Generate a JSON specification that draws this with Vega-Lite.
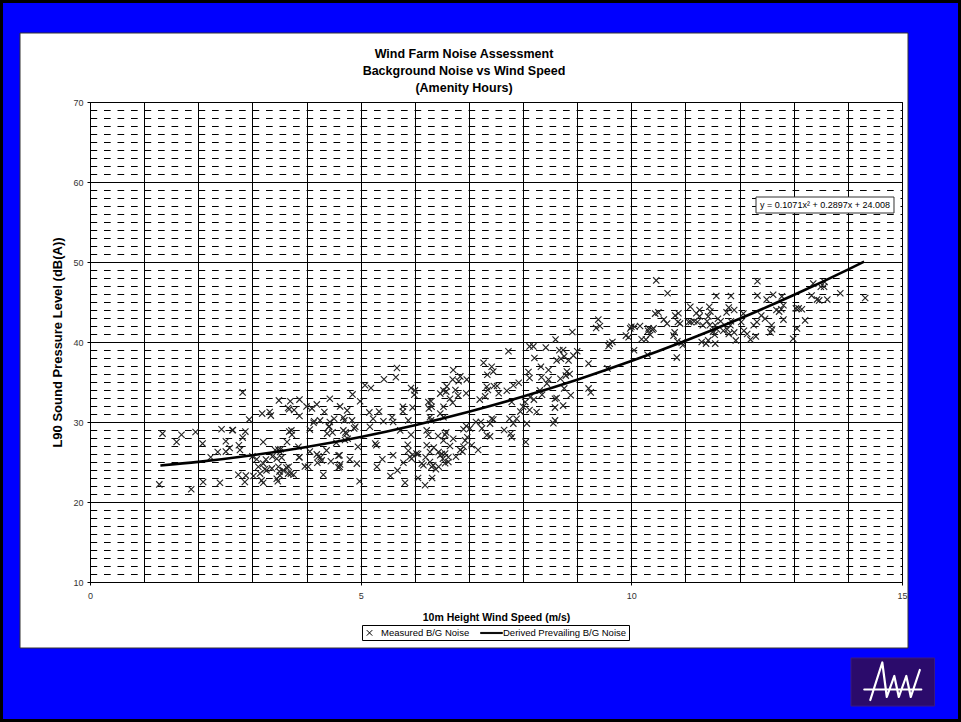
{
  "$schema": "https://vega.github.io/schema/vega-lite/v6.json",
  "width": 812,
  "height": 480,
  "autosize": {"type": "none"},
  "padding": {"left": 90, "top": 102, "right": 59, "bottom": 140},
  "background": "#ffffff",
  "title": {
    "text": ["Wind Farm Noise Assessment", "Background Noise vs Wind Speed", "(Amenity Hours)"],
    "font": "Liberation Sans",
    "fontSize": 12.5,
    "fontWeight": "bold",
    "color": "#000000",
    "lineHeight": 17,
    "anchor": "middle",
    "frame": "group",
    "dx": -32,
    "dy": 94,
    "offset": 0
  },
  "datasets": {
    "noise": [
      {"speed": 1.28, "level": 22.2}, {"speed": 1.34, "level": 28.55}, {"speed": 1.6, "level": 27.5}, {"speed": 1.69, "level": 28.4},
      {"speed": 1.95, "level": 28.75}, {"speed": 1.87, "level": 21.6}, {"speed": 2.09, "level": 22.5}, {"speed": 2.4, "level": 22.4},
      {"speed": 2.08, "level": 27.3}, {"speed": 2.23, "level": 25.6}, {"speed": 2.36, "level": 26.25}, {"speed": 2.43, "level": 29.1},
      {"speed": 2.63, "level": 28.96}, {"speed": 2.51, "level": 27.6}, {"speed": 2.58, "level": 26.75}, {"speed": 2.51, "level": 26.3},
      {"speed": 2.75, "level": 27.1}, {"speed": 2.82, "level": 28.05}, {"speed": 2.87, "level": 28.8}, {"speed": 2.94, "level": 30.3},
      {"speed": 2.82, "level": 33.7}, {"speed": 2.74, "level": 23.4}, {"speed": 2.88, "level": 23.3}, {"speed": 2.86, "level": 22.5},
      {"speed": 3.02, "level": 23.25}, {"speed": 2.64, "level": 29.0}, {"speed": 2.77, "level": 26.5}, {"speed": 3.0, "level": 25.7},
      {"speed": 3.18, "level": 31.05}, {"speed": 3.32, "level": 31.25}, {"speed": 3.34, "level": 30.8}, {"speed": 3.2, "level": 27.5},
      {"speed": 3.49, "level": 32.7}, {"speed": 3.7, "level": 32.6}, {"speed": 3.77, "level": 31.5}, {"speed": 3.87, "level": 30.75},
      {"speed": 3.66, "level": 31.75}, {"speed": 3.68, "level": 31.6}, {"speed": 4.0, "level": 31.95}, {"speed": 4.1, "level": 31.7},
      {"speed": 4.19, "level": 32.2}, {"speed": 4.43, "level": 32.9}, {"speed": 4.33, "level": 31.25}, {"speed": 3.87, "level": 32.8},
      {"speed": 4.06, "level": 29.05}, {"speed": 4.14, "level": 30.1}, {"speed": 4.25, "level": 30.2}, {"speed": 4.43, "level": 30.0},
      {"speed": 4.51, "level": 30.4}, {"speed": 4.38, "level": 28.55}, {"speed": 4.48, "level": 28.7}, {"speed": 4.42, "level": 29.45},
      {"speed": 3.68, "level": 28.8}, {"speed": 3.73, "level": 28.4}, {"speed": 3.64, "level": 27.5}, {"speed": 3.48, "level": 26.55},
      {"speed": 3.54, "level": 25.55}, {"speed": 3.37, "level": 25.7}, {"speed": 3.25, "level": 25.3}, {"speed": 3.08, "level": 25.35},
      {"speed": 3.11, "level": 24.4}, {"speed": 3.2, "level": 24.8}, {"speed": 3.26, "level": 23.95}, {"speed": 3.14, "level": 23.55},
      {"speed": 3.17, "level": 22.7}, {"speed": 3.2, "level": 22.4}, {"speed": 3.36, "level": 24.2}, {"speed": 3.48, "level": 24.4},
      {"speed": 3.57, "level": 23.95}, {"speed": 3.63, "level": 24.3}, {"speed": 3.66, "level": 23.55}, {"speed": 3.45, "level": 22.9},
      {"speed": 3.47, "level": 22.6}, {"speed": 3.51, "level": 23.3}, {"speed": 3.76, "level": 23.4}, {"speed": 3.97, "level": 24.45},
      {"speed": 4.31, "level": 23.4}, {"speed": 3.87, "level": 25.6}, {"speed": 4.06, "level": 26.3}, {"speed": 4.19, "level": 25.95},
      {"speed": 4.28, "level": 25.2}, {"speed": 4.26, "level": 25.6}, {"speed": 4.37, "level": 26.45}, {"speed": 4.59, "level": 25.8},
      {"speed": 4.59, "level": 24.3}, {"speed": 3.42, "level": 26.5}, {"speed": 3.52, "level": 26.6}, {"speed": 3.85, "level": 26.9},
      {"speed": 3.86, "level": 25.6}, {"speed": 4.2, "level": 24.9}, {"speed": 4.22, "level": 25.7}, {"speed": 4.03, "level": 24.4},
      {"speed": 3.23, "level": 24.1}, {"speed": 3.5, "level": 23.8}, {"speed": 3.67, "level": 24.4}, {"speed": 3.71, "level": 23.55},
      {"speed": 3.45, "level": 25.4}, {"speed": 3.51, "level": 26.25}, {"speed": 4.13, "level": 29.9}, {"speed": 4.41, "level": 29.4},
      {"speed": 4.62, "level": 31.95}, {"speed": 4.68, "level": 30.55}, {"speed": 4.7, "level": 30.2}, {"speed": 4.75, "level": 31.45},
      {"speed": 4.68, "level": 28.95}, {"speed": 4.72, "level": 28.7}, {"speed": 4.84, "level": 30.2}, {"speed": 4.9, "level": 29.4},
      {"speed": 4.88, "level": 29.2}, {"speed": 4.85, "level": 33.45}, {"speed": 4.99, "level": 32.6}, {"speed": 4.61, "level": 25.85},
      {"speed": 4.62, "level": 24.7}, {"speed": 4.61, "level": 24.4}, {"speed": 4.93, "level": 24.8}, {"speed": 4.98, "level": 22.6},
      {"speed": 3.72, "level": 28.95}, {"speed": 4.55, "level": 27.4}, {"speed": 4.76, "level": 27.9}, {"speed": 4.95, "level": 26.9},
      {"speed": 4.45, "level": 25.1}, {"speed": 4.8, "level": 25.3}, {"speed": 4.71, "level": 27.75}, {"speed": 4.74, "level": 28.55},
      {"speed": 5.08, "level": 34.6}, {"speed": 5.19, "level": 34.25}, {"speed": 5.43, "level": 35.35}, {"speed": 5.65, "level": 35.6},
      {"speed": 5.67, "level": 36.75}, {"speed": 5.93, "level": 34.25}, {"speed": 6.0, "level": 33.95}, {"speed": 5.99, "level": 33.4},
      {"speed": 5.16, "level": 31.2}, {"speed": 5.34, "level": 31.3}, {"speed": 5.17, "level": 29.4}, {"speed": 5.23, "level": 30.4},
      {"speed": 5.42, "level": 30.1}, {"speed": 5.58, "level": 30.6}, {"speed": 5.6, "level": 30.0}, {"speed": 5.78, "level": 31.9},
      {"speed": 5.78, "level": 31.3}, {"speed": 5.88, "level": 30.2}, {"speed": 5.73, "level": 28.95}, {"speed": 5.93, "level": 28.4},
      {"speed": 5.96, "level": 31.8}, {"speed": 5.27, "level": 27.3}, {"speed": 5.29, "level": 27.1}, {"speed": 5.4, "level": 25.35},
      {"speed": 5.6, "level": 25.85}, {"speed": 5.55, "level": 23.25}, {"speed": 5.68, "level": 23.95}, {"speed": 5.79, "level": 24.9},
      {"speed": 5.87, "level": 27.15}, {"speed": 5.88, "level": 26.4}, {"speed": 5.94, "level": 25.4}, {"speed": 5.96, "level": 25.9},
      {"speed": 6.13, "level": 24.8}, {"speed": 6.25, "level": 32.5}, {"speed": 6.3, "level": 32.6}, {"speed": 6.26, "level": 31.7},
      {"speed": 6.31, "level": 31.9}, {"speed": 6.47, "level": 33.55}, {"speed": 6.53, "level": 33.95}, {"speed": 6.28, "level": 30.6},
      {"speed": 6.3, "level": 30.2}, {"speed": 6.47, "level": 31.05}, {"speed": 6.53, "level": 30.6}, {"speed": 6.22, "level": 28.95},
      {"speed": 6.25, "level": 28.4}, {"speed": 6.43, "level": 28.25}, {"speed": 6.53, "level": 27.7}, {"speed": 6.58, "level": 28.7},
      {"speed": 6.22, "level": 27.1}, {"speed": 6.28, "level": 26.25}, {"speed": 6.35, "level": 26.8}, {"speed": 6.44, "level": 26.25},
      {"speed": 6.5, "level": 26.0}, {"speed": 6.28, "level": 25.0}, {"speed": 6.34, "level": 24.6}, {"speed": 6.44, "level": 24.4},
      {"speed": 6.52, "level": 25.4}, {"speed": 6.2, "level": 25.6}, {"speed": 6.06, "level": 26.0}, {"speed": 6.16, "level": 24.6},
      {"speed": 6.31, "level": 24.4}, {"speed": 6.39, "level": 24.1}, {"speed": 5.3, "level": 24.4}, {"speed": 5.82, "level": 22.4},
      {"speed": 6.06, "level": 23.0}, {"speed": 6.19, "level": 22.1}, {"speed": 6.32, "level": 23.0},
      {"speed": 7.27, "level": 37.4}, {"speed": 7.42, "level": 36.9}, {"speed": 7.45, "level": 36.3}, {"speed": 7.34, "level": 35.9},
      {"speed": 6.71, "level": 36.5}, {"speed": 6.84, "level": 35.7}, {"speed": 6.7, "level": 35.3}, {"speed": 6.96, "level": 35.3},
      {"speed": 6.81, "level": 35.1}, {"speed": 6.59, "level": 34.45}, {"speed": 6.58, "level": 33.8}, {"speed": 6.65, "level": 32.9},
      {"speed": 6.53, "level": 31.9}, {"speed": 6.75, "level": 34.0}, {"speed": 6.8, "level": 33.3}, {"speed": 6.95, "level": 33.6},
      {"speed": 6.7, "level": 32.4}, {"speed": 7.33, "level": 34.4}, {"speed": 7.46, "level": 34.5}, {"speed": 7.52, "level": 34.5},
      {"speed": 7.82, "level": 34.6}, {"speed": 7.92, "level": 34.9}, {"speed": 7.2, "level": 32.8}, {"speed": 7.3, "level": 33.2},
      {"speed": 7.35, "level": 34.0}, {"speed": 7.55, "level": 33.6}, {"speed": 7.79, "level": 32.5}, {"speed": 7.7, "level": 33.9},
      {"speed": 8.04, "level": 32.5}, {"speed": 8.13, "level": 33.1}, {"speed": 8.2, "level": 32.8}, {"speed": 8.31, "level": 33.95},
      {"speed": 8.12, "level": 31.5}, {"speed": 8.25, "level": 31.25}, {"speed": 8.35, "level": 33.4}, {"speed": 8.59, "level": 32.9},
      {"speed": 8.59, "level": 31.8}, {"speed": 8.74, "level": 32.05}, {"speed": 8.59, "level": 30.2}, {"speed": 8.56, "level": 29.85},
      {"speed": 8.05, "level": 27.5}, {"speed": 7.77, "level": 28.55}, {"speed": 7.79, "level": 28.1}, {"speed": 7.65, "level": 29.0},
      {"speed": 7.39, "level": 29.8}, {"speed": 7.45, "level": 30.3}, {"speed": 7.22, "level": 30.0}, {"speed": 7.13, "level": 30.0},
      {"speed": 7.82, "level": 29.8}, {"speed": 7.88, "level": 30.4}, {"speed": 7.42, "level": 30.4}, {"speed": 7.75, "level": 30.4},
      {"speed": 7.95, "level": 31.3}, {"speed": 8.0, "level": 31.9}, {"speed": 8.07, "level": 29.8}, {"speed": 7.33, "level": 28.35},
      {"speed": 7.17, "level": 26.5}, {"speed": 7.02, "level": 29.2}, {"speed": 6.95, "level": 29.5}, {"speed": 6.9, "level": 29.1},
      {"speed": 6.93, "level": 27.7}, {"speed": 6.84, "level": 26.5}, {"speed": 6.71, "level": 27.9}, {"speed": 6.65, "level": 27.0},
      {"speed": 6.56, "level": 26.05}, {"speed": 6.62, "level": 25.6}, {"speed": 6.62, "level": 25.0}, {"speed": 6.56, "level": 28.4},
      {"speed": 7.39, "level": 28.2}, {"speed": 7.24, "level": 29.2}, {"speed": 6.97, "level": 28.1}, {"speed": 7.05, "level": 27.1},
      {"speed": 6.9, "level": 26.9}, {"speed": 6.88, "level": 26.3}, {"speed": 6.76, "level": 25.65}, {"speed": 6.56, "level": 24.85},
      {"speed": 6.47, "level": 25.85}, {"speed": 6.03, "level": 26.05}, {"speed": 5.91, "level": 25.65},
      {"speed": 7.73, "level": 38.85}, {"speed": 8.12, "level": 39.45}, {"speed": 8.19, "level": 39.45}, {"speed": 8.42, "level": 39.3},
      {"speed": 8.67, "level": 38.96}, {"speed": 8.21, "level": 38.0}, {"speed": 8.62, "level": 37.7}, {"speed": 8.7, "level": 37.9},
      {"speed": 8.76, "level": 38.2}, {"speed": 8.84, "level": 37.7}, {"speed": 8.93, "level": 38.3}, {"speed": 9.0, "level": 38.85},
      {"speed": 9.21, "level": 37.3}, {"speed": 9.56, "level": 36.7}, {"speed": 8.33, "level": 36.9}, {"speed": 8.47, "level": 36.5},
      {"speed": 8.1, "level": 36.25}, {"speed": 8.81, "level": 36.3}, {"speed": 8.79, "level": 35.8}, {"speed": 8.69, "level": 35.4},
      {"speed": 8.86, "level": 36.0}, {"speed": 8.47, "level": 35.3}, {"speed": 8.44, "level": 34.8}, {"speed": 8.76, "level": 34.2},
      {"speed": 8.88, "level": 33.35}, {"speed": 9.21, "level": 34.2}, {"speed": 9.25, "level": 33.7}, {"speed": 8.34, "level": 35.6},
      {"speed": 8.74, "level": 39.0}, {"speed": 8.12, "level": 35.5}, {"speed": 8.62, "level": 33.0}, {"speed": 8.6, "level": 40.3},
      {"speed": 8.91, "level": 41.25}, {"speed": 9.39, "level": 42.8}, {"speed": 9.35, "level": 41.75}, {"speed": 9.42, "level": 42.0},
      {"speed": 10.0, "level": 41.9}, {"speed": 10.06, "level": 41.9}, {"speed": 9.95, "level": 40.6}, {"speed": 9.9, "level": 40.8},
      {"speed": 10.19, "level": 40.35}, {"speed": 10.32, "level": 41.7}, {"speed": 9.65, "level": 40.0}, {"speed": 9.58, "level": 39.5},
      {"speed": 9.6, "level": 39.8}, {"speed": 10.05, "level": 38.96}, {"speed": 10.3, "level": 38.4}, {"speed": 10.46, "level": 47.7},
      {"speed": 10.44, "level": 43.55}, {"speed": 10.5, "level": 43.7}, {"speed": 9.98, "level": 41.7}, {"speed": 10.16, "level": 42.0},
      {"speed": 10.39, "level": 41.55}, {"speed": 10.84, "level": 38.05},
      {"speed": 10.67, "level": 46.1}, {"speed": 12.33, "level": 47.6}, {"speed": 11.57, "level": 45.75}, {"speed": 11.84, "level": 45.75},
      {"speed": 12.33, "level": 45.8}, {"speed": 12.62, "level": 45.9}, {"speed": 12.5, "level": 45.3}, {"speed": 12.78, "level": 45.7},
      {"speed": 13.36, "level": 47.3}, {"speed": 13.57, "level": 47.5}, {"speed": 13.56, "level": 46.9}, {"speed": 13.5, "level": 46.9},
      {"speed": 13.86, "level": 46.1}, {"speed": 14.32, "level": 45.5}, {"speed": 13.33, "level": 45.8}, {"speed": 13.43, "level": 45.3},
      {"speed": 13.47, "level": 45.2}, {"speed": 13.62, "level": 45.3}, {"speed": 13.09, "level": 44.2}, {"speed": 13.15, "level": 44.1},
      {"speed": 13.04, "level": 44.2}, {"speed": 13.21, "level": 42.7}, {"speed": 13.06, "level": 41.7}, {"speed": 12.99, "level": 40.4},
      {"speed": 12.81, "level": 44.6}, {"speed": 12.77, "level": 44.1}, {"speed": 12.73, "level": 43.8}, {"speed": 12.81, "level": 42.8},
      {"speed": 12.59, "level": 42.1}, {"speed": 12.6, "level": 41.6}, {"speed": 12.57, "level": 41.2}, {"speed": 12.26, "level": 42.1},
      {"speed": 12.32, "level": 42.5}, {"speed": 12.4, "level": 43.3}, {"speed": 12.47, "level": 42.9}, {"speed": 12.3, "level": 40.7},
      {"speed": 12.2, "level": 40.3}, {"speed": 11.93, "level": 40.2}, {"speed": 12.14, "level": 41.0}, {"speed": 12.08, "level": 41.4},
      {"speed": 12.03, "level": 42.5}, {"speed": 12.07, "level": 43.55}, {"speed": 11.9, "level": 44.0}, {"speed": 11.8, "level": 44.3},
      {"speed": 11.76, "level": 43.7}, {"speed": 11.84, "level": 42.6}, {"speed": 11.83, "level": 42.1}, {"speed": 11.77, "level": 41.6},
      {"speed": 11.65, "level": 42.6}, {"speed": 11.55, "level": 42.1}, {"speed": 11.58, "level": 41.6}, {"speed": 11.44, "level": 44.4},
      {"speed": 11.46, "level": 43.8}, {"speed": 11.42, "level": 43.2}, {"speed": 11.4, "level": 42.6}, {"speed": 11.45, "level": 42.1},
      {"speed": 11.51, "level": 41.3}, {"speed": 11.54, "level": 40.9}, {"speed": 11.42, "level": 40.2}, {"speed": 11.38, "level": 39.8},
      {"speed": 11.32, "level": 42.1}, {"speed": 11.26, "level": 43.2}, {"speed": 11.22, "level": 42.5}, {"speed": 11.16, "level": 42.6},
      {"speed": 11.1, "level": 42.5}, {"speed": 11.06, "level": 42.5}, {"speed": 10.9, "level": 42.3}, {"speed": 10.86, "level": 42.5},
      {"speed": 10.81, "level": 43.3}, {"speed": 10.87, "level": 43.6}, {"speed": 11.09, "level": 44.4}, {"speed": 11.26, "level": 44.0},
      {"speed": 11.2, "level": 43.6}, {"speed": 10.6, "level": 42.8}, {"speed": 10.66, "level": 42.3}, {"speed": 10.41, "level": 41.7},
      {"speed": 10.31, "level": 41.4}, {"speed": 10.35, "level": 40.9}, {"speed": 10.27, "level": 40.3}, {"speed": 10.78, "level": 40.8},
      {"speed": 10.8, "level": 41.2}, {"speed": 10.85, "level": 40.1}, {"speed": 10.93, "level": 39.9}, {"speed": 10.95, "level": 39.6},
      {"speed": 11.3, "level": 40.0}, {"speed": 11.55, "level": 39.8}, {"speed": 11.8, "level": 41.0}, {"speed": 11.7, "level": 41.4},
      {"speed": 11.6, "level": 42.9}, {"speed": 11.9, "level": 41.2}, {"speed": 12.68, "level": 44.0}
    ],
    "fit": [
      {"speed": 1.3, "level": 24.566}, {"speed": 2, "level": 25.016}, {"speed": 3, "level": 25.841}, {"speed": 4, "level": 26.88},
      {"speed": 5, "level": 28.134}, {"speed": 6, "level": 29.602}, {"speed": 7, "level": 31.284}, {"speed": 8, "level": 33.18},
      {"speed": 9, "level": 35.29}, {"speed": 10, "level": 37.615}, {"speed": 11, "level": 40.154}, {"speed": 12, "level": 42.907},
      {"speed": 13, "level": 45.874}, {"speed": 14, "level": 49.055}, {"speed": 14.3, "level": 50.052}
    ]
  },
  "layer": [
    {
      "data": {"name": "noise"},
      "mark": {"type": "point", "filled": false, "stroke": "#222222", "strokeWidth": 1.1, "size": 110, "opacity": 1},
      "encoding": {
        "x": {
          "field": "speed",
          "type": "quantitative",
          "title": "10m Height Wind Speed (m/s)",
          "scale": {"domain": [0, 15], "nice": false, "zero": false},
          "axis": {
            "values": [0, 1, 2, 3, 4, 5, 6, 7, 8, 9, 10, 11, 12, 13, 14, 15],
            "tickCount": 40,
            "format": "d",
            "labelExpr": "datum.value % 5 === 0 ? datum.label : ''",
            "labelOverlap": false,
            "labelFlush": false,
            "grid": true,
            "gridColor": "#000000",
            "gridWidth": 1,
            "gridOpacity": 1,
            "domainColor": "#000000",
            "domainWidth": 1,
            "ticks": true,
            "tickSize": 3,
            "tickColor": "#000000",
            "tickOpacity": {"condition": {"test": "datum.value % 5 === 0", "value": 1}, "value": 0},
            "labelFont": "Liberation Sans",
            "labelFontSize": 9,
            "labelColor": "#333333",
            "labelPadding": 6,
            "titleFont": "Liberation Sans",
            "titleFontSize": 10.5,
            "titleFontWeight": "bold",
            "titleColor": "#000000",
            "titlePadding": 12
          }
        },
        "y": {
          "field": "level",
          "type": "quantitative",
          "title": "L90 Sound Pressure Level (dB(A))",
          "scale": {"domain": [10, 70], "nice": false, "zero": false},
          "axis": {
            "values": [10, 11, 12, 13, 14, 15, 16, 17, 18, 19, 20, 21, 22, 23, 24, 25, 26, 27, 28, 29, 30, 31, 32, 33, 34, 35, 36, 37, 38, 39, 40, 41, 42, 43, 44, 45, 46, 47, 48, 49, 50, 51, 52, 53, 54, 55, 56, 57, 58, 59, 60, 61, 62, 63, 64, 65, 66, 67, 68, 69, 70],
            "tickCount": 100,
            "format": "d",
            "labelExpr": "datum.value % 10 === 0 ? datum.label : ''",
            "labelOverlap": false,
            "labelFlush": false,
            "grid": true,
            "gridColor": "#000000",
            "gridWidth": 1,
            "gridOpacity": 1,
            "gridDash": {"condition": {"test": "datum.value % 10 === 0", "value": []}, "value": [6.7, 6.8]},
            "domainColor": "#000000",
            "domainWidth": 1,
            "ticks": true,
            "tickSize": 3,
            "tickColor": "#000000",
            "tickOpacity": {"condition": {"test": "datum.value % 10 === 0", "value": 1}, "value": 0},
            "labelFont": "Liberation Sans",
            "labelFontSize": 9,
            "labelColor": "#333333",
            "labelPadding": 4,
            "titleFont": "Liberation Sans",
            "titleFontSize": 13,
            "titleFontWeight": "bold",
            "titleColor": "#000000",
            "titlePadding": 8
          }
        },
        "shape": {
          "datum": "Measured B/G Noise",
          "type": "nominal",
          "scale": {
            "domain": ["Measured B/G Noise", "Derived Prevailing B/G Noise"],
            "range": ["M-0.6,-0.6L0.6,0.6M-0.6,0.6L0.6,-0.6", "M-2.4,-0.12L2.4,-0.12L2.4,0.12L-2.4,0.12Z"]
          },
          "legend": {
            "title": null,
            "orient": "none",
            "legendX": 272,
            "legendY": 523,
            "direction": "horizontal",
            "padding": 2,
            "strokeColor": "#000000",
            "fillColor": "#ffffff",
            "labelFont": "Liberation Sans",
            "labelFontSize": 9.5,
            "labelColor": "#000000",
            "symbolStrokeColor": "#000000",
            "symbolFillColor": "#000000",
            "symbolStrokeWidth": 1,
            "symbolSize": 84,
            "labelOffset": 6,
            "columnPadding": 8
          }
        }
      }
    },
    {
      "data": {"name": "fit"},
      "mark": {"type": "line", "color": "#000000", "strokeWidth": 2.6, "interpolate": "monotone"},
      "encoding": {
        "x": {"field": "speed", "type": "quantitative"},
        "y": {"field": "level", "type": "quantitative"}
      }
    },
    {
      "description": "blue surround, top strip",
      "data": {"values": [{}]},
      "mark": {"type": "rect", "fill": "#0000ff"},
      "encoding": {
        "x": {"datum": -1.7, "type": "quantitative"},
        "x2": {"datum": 16.1},
        "y": {"datum": 82.75, "type": "quantitative"},
        "y2": {"datum": 78.625}
      }
    },
    {
      "description": "blue surround, bottom strip",
      "data": {"values": [{}]},
      "mark": {"type": "rect", "fill": "#0000ff"},
      "encoding": {
        "x": {"datum": -1.7, "type": "quantitative"},
        "x2": {"datum": 16.1},
        "y": {"datum": 1.75, "type": "quantitative"},
        "y2": {"datum": -7.5}
      }
    },
    {
      "description": "blue surround, left strip",
      "data": {"values": [{}]},
      "mark": {"type": "rect", "fill": "#0000ff"},
      "encoding": {
        "x": {"datum": -1.7, "type": "quantitative"},
        "x2": {"datum": -1.293},
        "y": {"datum": 78.7, "type": "quantitative"},
        "y2": {"datum": 1.7}
      }
    },
    {
      "description": "blue surround, right strip",
      "data": {"values": [{}]},
      "mark": {"type": "rect", "fill": "#0000ff"},
      "encoding": {
        "x": {"datum": 15.111, "type": "quantitative"},
        "x2": {"datum": 16.1},
        "y": {"datum": 78.7, "type": "quantitative"},
        "y2": {"datum": 1.7}
      }
    },
    {
      "description": "black frame round the slide",
      "data": {"values": [{}]},
      "mark": {"type": "rect", "fill": null, "fillOpacity": 0, "stroke": "#000000", "strokeWidth": 3},
      "encoding": {
        "x": {"datum": -1.6348, "type": "quantitative"},
        "x2": {"datum": 16.0622},
        "y": {"datum": 82.5625, "type": "quantitative"},
        "y2": {"datum": -7.3}
      }
    },
    {
      "description": "edge of the white chart panel",
      "data": {"values": [{}]},
      "mark": {"type": "rect", "fill": null, "fillOpacity": 0, "stroke": "#333333", "strokeWidth": 1},
      "encoding": {
        "x": {"datum": -1.293, "type": "quantitative"},
        "x2": {"datum": 15.111},
        "y": {"datum": 78.625, "type": "quantitative"},
        "y2": {"datum": 1.75}
      }
    },
    {
      "description": "logo badge",
      "data": {"values": [{}]},
      "mark": {"type": "rect", "fill": "#2b0b6b", "stroke": "#3a1a80", "strokeWidth": 1},
      "encoding": {
        "x": {"datum": 14.058, "type": "quantitative"},
        "x2": {"datum": 15.6},
        "y": {"datum": 0.5, "type": "quantitative"},
        "y2": {"datum": -5.5}
      }
    },
    {
      "description": "logo wave glyph",
      "data": {"values": [{}]},
      "mark": {
        "type": "point",
        "filled": false,
        "stroke": "#ffffff",
        "strokeWidth": 2.2,
        "strokeCap": "round",
        "strokeJoin": "round",
        "opacity": 1,
        "size": 3600,
        "shape": "M-0.95,0.25L0.95,0.25M-0.75,0.6L-0.35,-0.65L-0.2,0.5L0.05,-0.2L0.2,0.5L0.45,-0.2L0.6,0.5L0.9,-0.4"
      },
      "encoding": {
        "x": {"datum": 14.83, "type": "quantitative"},
        "y": {"datum": -2.5, "type": "quantitative"}
      }
    },
    {
      "description": "box behind the trend equation",
      "data": {"values": [{}]},
      "mark": {"type": "rect", "fill": "#ffffff", "stroke": "#333333", "strokeWidth": 1},
      "encoding": {
        "x": {"datum": 12.303, "type": "quantitative"},
        "x2": {"datum": 14.852},
        "y": {"datum": 58.125, "type": "quantitative"},
        "y2": {"datum": 56.125}
      }
    },
    {
      "description": "trend equation",
      "data": {"values": [{}]},
      "mark": {"type": "text", "text": "y = 0.1071x² + 0.2897x + 24.008", "font": "Liberation Sans", "fontSize": 9, "color": "#000000", "align": "center", "baseline": "middle"},
      "encoding": {
        "x": {"datum": 13.578, "type": "quantitative"},
        "y": {"datum": 57.125, "type": "quantitative"}
      }
    }
  ],
  "config": {
    "font": "Liberation Sans",
    "view": {"stroke": "#000000", "strokeWidth": 1}
  }
}
